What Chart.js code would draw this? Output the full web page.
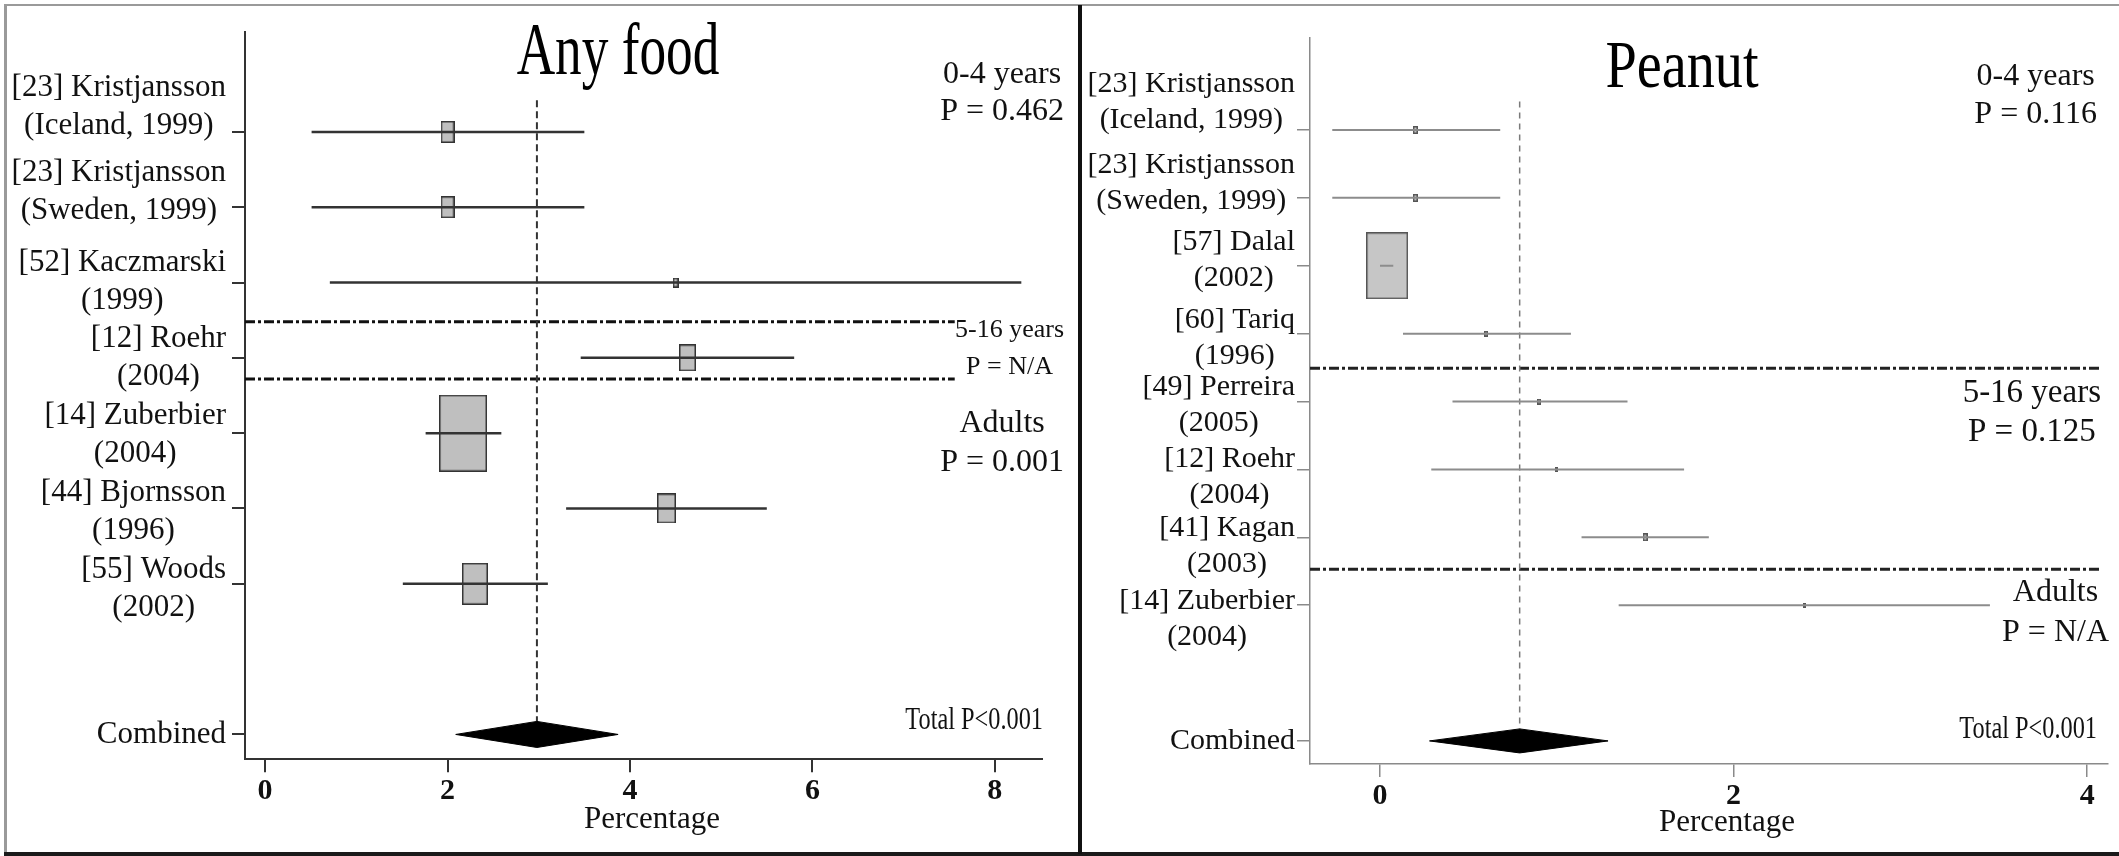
<!DOCTYPE html>
<html>
<head>
<meta charset="utf-8">
<script src="https://cdn.jsdelivr.net/npm/chart.js@4.4.1/dist/chart.umd.min.js"></script>
<style>
  html, body { margin: 0; padding: 0; background: #fff; }
  body { width: 2119px; height: 856px; position: relative; overflow: hidden; }
  .rule { position: absolute; }
  canvas { position: absolute; }
</style>
</head>
<body>
<div class="rule" style="left:4px;top:4px;width:2115px;height:2px;background:#9a9a9a"></div>
<div class="rule" style="left:4px;top:4px;width:3px;height:850px;background:#9a9a9a"></div>
<div class="rule" style="left:4px;top:852px;width:2115px;height:4px;background:#1a1a1a"></div>
<div class="rule" style="left:1078px;top:5px;width:4px;height:849px;background:#111"></div>
<canvas id="foodChart" width="1071" height="846" style="left:7px;top:6px"></canvas>
<canvas id="peanutChart" width="1037" height="846" style="left:1082px;top:6px"></canvas>
<script>
const serif = '"Liberation Serif", "Times New Roman", serif';

// Any food
const foodLabels = [
  ['[23] Kristjansson', '(Iceland, 1999)'],
  ['[23] Kristjansson', '(Sweden, 1999)'],
  ['[52] Kaczmarski', '(1999)'],
  ['[12] Roehr', '(2004)'],
  ['[14] Zuberbier', '(2004)'],
  ['[44] Bjornsson', '(1996)'],
  ['[55] Woods', '(2002)']
];
const foodEst = [2.0, 2.0, 4.5, 4.63, 2.17, 4.4, 2.3];
const foodLow = [0.51, 0.51, 0.71, 3.46, 1.76, 3.3, 1.51];
const foodHigh = [3.5, 3.5, 8.29, 5.8, 2.59, 5.5, 3.1];
const foodWeight = [4.6, 4.6, 0.9, 7.5, 56.5, 8.8, 17.1];
const foodCombined = [2.09, 2.98, 3.87]; // low, estimate, high
const foodTicks = [0, 2, 4, 6, 8];
const foodGroups = [['0-4 years', 'P = 0.462'], ['5-16 years', 'P = N/A'], ['Adults', 'P = 0.001']];

// Peanut
const peanutLabels = [
  ['[23] Kristjansson', '(Iceland, 1999)'],
  ['[23] Kristjansson', '(Sweden, 1999)'],
  ['[57] Dalal', '(2002)'],
  ['[60] Tariq', '(1996)'],
  ['[49] Perreira', '(2005)'],
  ['[12] Roehr', '(2004)'],
  ['[41] Kagan', '(2003)'],
  ['[14] Zuberbier', '(2004)']
];
const peanutEst = [0.2, 0.2, 0.04, 0.6, 0.9, 1.0, 1.5, 2.4];
const peanutLow = [-0.27, -0.27, 0.0, 0.13, 0.41, 0.29, 1.14, 1.35];
const peanutHigh = [0.68, 0.68, 0.075, 1.08, 1.4, 1.72, 1.86, 3.45];
const peanutWeight = [1.1, 1.1, 94.0, 1.0, 0.9, 0.4, 1.3, 0.2];
const peanutCombined = [0.28, 0.79, 1.29];
const peanutTicks = [0, 2, 4];
const peanutGroups = [['0-4 years', 'P = 0.116'], ['5-16 years', 'P = 0.125'], ['Adults', 'P = N/A']];

const totalText = 'Total P<0.001';
const axisTitle = 'Percentage';

// layout / style for each panel
const foodLayout = {
  title: 'Any food',
  xMin: -0.22, xMax: 8.52, yMin: -0.33, yMax: 9.33,
  padTop: 25.7, padRight: 35.7, yWidth: 238, xHeight: 92.7,
  labelRight: 219, labelFont: 31, labelLine: 38,
  labelShift: [-25, -15, -1, 0, 2, 3, 5],
  refTop: 0.58, diamondHalf: 0.173,
  breaks: [3.52, 4.28], breakEnd: 7.56,
  boxArea: 65,
  head: {x: 611, y: 68, size: 74, squeeze: 0.72},
  total: {x: 1036, y: 715, size: 32, squeeze: 0.76},
  xTitle: {x: 645, y: 814, size: 31},
  notes: [
    {right: 1057, y: 87.5, size: 32, gap: 37},
    {right: 1057, y: 342.5, size: 26, gap: 37},
    {right: 1057, y: 437.5, size: 32, gap: 39}
  ],
  ink: {axis: '#333', axisW: 2, ci: '#333', ciW: 2.5, boxFill: '#bfbfbf', boxLine: '#333',
        ref: '#333', refW: 2, refDash: [7, 4], sep: '#111', sepW: 3}
};

const peanutLayout = {
  title: 'Peanut',
  xMin: -0.396, xMax: 4.114, yMin: -0.355, yMax: 10.34,
  padTop: 32, padRight: 11.7, yWidth: 228, xHeight: 88,
  labelRight: 213, labelFont: 30, labelLine: 36,
  labelShift: [-28, -15, -6, 4, 4, 8, 9, 14],
  refTop: 0.58, diamondHalf: 0.177,
  breaks: [4.51, 7.47], breakEnd: 4.07,
  boxArea: 30.6,
  head: {x: 600, y: 81, size: 67, squeeze: 0.84},
  total: {x: 1015, y: 724, size: 32, squeeze: 0.76},
  xTitle: {x: 645, y: 817, size: 31},
  notes: [
    {right: 1015, y: 90, size: 32, gap: 38},
    {right: 1019, y: 406.5, size: 33, gap: 39},
    {right: 1027, y: 607, size: 32, gap: 40}
  ],
  ink: {axis: '#8a8a8a', axisW: 1.5, ci: '#8c8c8c', ciW: 2, boxFill: '#c6c6c6', boxLine: '#555',
        ref: '#7a7a7a', refW: 1.5, refDash: [6, 5], sep: '#222', sepW: 3}
};

Chart.defaults.font.family = serif;

function boxImage(area, fill, stroke) {
  const w = Math.max(3, Math.round(Math.sqrt(area / 1.6)));
  const h = Math.max(4, Math.round(w * 1.6));
  const c = document.createElement('canvas');
  c.width = w;
  c.height = h;
  const g = c.getContext('2d');
  g.fillStyle = fill;
  g.fillRect(0, 0, w, h);
  g.strokeStyle = stroke;
  g.lineWidth = 1.5;
  g.strokeRect(0.75, 0.75, w - 1.5, h - 1.5);
  return c;
}

// lines centred on each other, block right-aligned
function drawBlock(ctx, lines, right, cy, gap) {
  const w = Math.max(...lines.map(t => ctx.measureText(t).width));
  lines.forEach((t, j) => {
    ctx.fillText(t, right - w / 2, cy + (j - (lines.length - 1) / 2) * gap);
  });
}

function forestChart(id, labels, est, low, high, weight, combined, ticks, groups, L) {
  const rows = labels.map((_, i) => i + 1);
  const combinedRow = labels.length + 2;
  const [cLow, cEst, cHigh] = combined;
  const d = L.diamondHalf;
  const ink = L.ink;
  const datasets = [];

  est.forEach((e, i) => {
    datasets.push({
      type: 'line',
      data: [{x: low[i], y: rows[i]}, {x: high[i], y: rows[i]}],
      borderColor: ink.ci, borderWidth: ink.ciW, pointRadius: 0
    });
  });

  const boxes = weight.map(w => boxImage(w * L.boxArea, ink.boxFill, ink.boxLine));
  datasets.push({
    type: 'scatter',
    data: est.map((e, i) => ({x: e, y: rows[i]})),
    pointStyle: c => boxes[c.dataIndex],
    pointRadius: 2
  });

  datasets.push({
    type: 'line',
    data: [
      {x: cLow, y: combinedRow}, {x: cEst, y: combinedRow - d},
      {x: cHigh, y: combinedRow}, {x: cEst, y: combinedRow + d},
      {x: cLow, y: combinedRow}
    ],
    borderColor: '#000', borderWidth: 1, backgroundColor: '#000',
    fill: 'shape', pointRadius: 0, tension: 0
  });

  datasets.push({
    type: 'line',
    data: [{x: cEst, y: L.refTop}, {x: cEst, y: combinedRow - d}],
    borderColor: ink.ref, borderWidth: ink.refW, borderDash: ink.refDash, pointRadius: 0
  });

  L.breaks.forEach(b => {
    datasets.push({
      type: 'line',
      data: [{x: L.xMin, y: b}, {x: L.breakEnd, y: b}],
      borderColor: ink.sep, borderWidth: ink.sepW, borderDash: [10, 3, 3, 3], pointRadius: 0
    });
  });

  const textPlugin = {
    id: 'forestText',
    afterDraw(chart) {
      const ctx = chart.ctx;
      const yScale = chart.scales.y;
      ctx.save();
      ctx.fillStyle = '#111';
      ctx.textAlign = 'center';
      ctx.textBaseline = 'middle';

      ctx.font = L.labelFont + 'px ' + serif;
      labels.forEach((lines, i) => {
        const y = yScale.getPixelForValue(rows[i]) + L.labelShift[i];
        drawBlock(ctx, lines, L.labelRight, y, L.labelLine);
      });
      drawBlock(ctx, ['Combined'], L.labelRight, yScale.getPixelForValue(combinedRow), L.labelLine);

      groups.forEach((lines, i) => {
        const n = L.notes[i];
        ctx.font = n.size + 'px ' + serif;
        drawBlock(ctx, lines, n.right, n.y, n.gap);
      });

      ctx.font = L.xTitle.size + 'px ' + serif;
      ctx.fillText(axisTitle, L.xTitle.x, L.xTitle.y);

      // condensed title
      ctx.save();
      ctx.fillStyle = '#000';
      ctx.translate(L.head.x, L.head.y);
      ctx.scale(L.head.squeeze, 1);
      ctx.font = L.head.size + 'px ' + serif;
      ctx.textBaseline = 'alphabetic';
      ctx.fillText(L.title, 0, 0);
      ctx.restore();

      ctx.save();
      ctx.translate(L.total.x, L.total.y);
      ctx.scale(L.total.squeeze, 1);
      ctx.font = L.total.size + 'px ' + serif;
      ctx.textAlign = 'right';
      ctx.fillText(totalText, 0, 0);
      ctx.restore();

      ctx.restore();
    }
  };

  const axisGrid = {
    drawOnChartArea: false, drawTicks: true, tickLength: 13,
    color: ink.axis, lineWidth: ink.axisW
  };

  return new Chart(document.getElementById(id), {
    type: 'scatter',
    data: {datasets: datasets},
    options: {
      responsive: false,
      animation: false,
      events: [],
      layout: {padding: {top: L.padTop, right: L.padRight, left: 0, bottom: 0}},
      plugins: {legend: {display: false}, tooltip: {enabled: false}},
      scales: {
        x: {
          type: 'linear', min: L.xMin, max: L.xMax,
          afterBuildTicks: s => { s.ticks = ticks.map(v => ({value: v})); },
          afterFit: s => { s.height = L.xHeight; },
          grid: axisGrid,
          border: {display: true, color: ink.axis, width: ink.axisW},
          ticks: {color: '#111', font: {family: serif, size: 30, weight: 'bold'}, padding: 1}
        },
        y: {
          type: 'linear', reverse: true, min: L.yMin, max: L.yMax,
          afterBuildTicks: s => { s.ticks = rows.concat([combinedRow]).map(v => ({value: v})); },
          afterFit: s => { s.width = L.yWidth; },
          grid: axisGrid,
          border: {display: true, color: ink.axis, width: ink.axisW},
          ticks: {display: false}
        }
      }
    },
    plugins: [textPlugin]
  });
}

forestChart('foodChart', foodLabels, foodEst, foodLow, foodHigh, foodWeight,
  foodCombined, foodTicks, foodGroups, foodLayout);
forestChart('peanutChart', peanutLabels, peanutEst, peanutLow, peanutHigh, peanutWeight,
  peanutCombined, peanutTicks, peanutGroups, peanutLayout);
</script>
</body>
</html>
